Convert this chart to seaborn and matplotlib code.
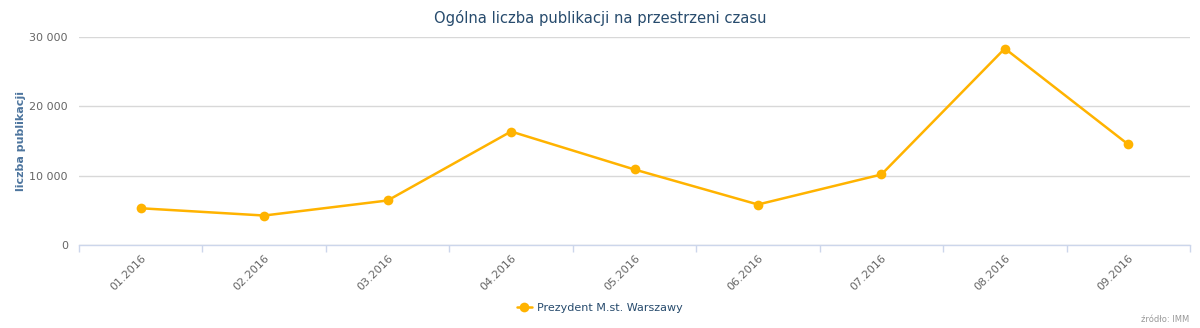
import matplotlib
matplotlib.use("Agg")
import matplotlib.pyplot as plt
import seaborn as sns
import pandas as pd
from matplotlib.ticker import FuncFormatter, FixedLocator
from matplotlib.lines import Line2D

months = ["01.2016", "02.2016", "03.2016", "04.2016", "05.2016",
          "06.2016", "07.2016", "08.2016", "09.2016"]
publications = [5300, 4250, 6420, 16370, 10890, 5840, 10170, 28340, 14500]
series_name = "Prezydent M.st. Warszawy"
y_ticks = [0, 10000, 20000, 30000]

df = pd.DataFrame({"month": months, "count": publications})

sns.set_theme(style="white")
plt.rcParams['font.family'] = ['DejaVu Sans']

color = "#ffb300"
fig = plt.figure(figsize=(12, 3.28), dpi=100)
ax = fig.add_axes([79/1200, 1 - 245/328, (1190 - 79)/1200, (245 - 37)/328])

sns.lineplot(data=df, x="month", y="count", ax=ax, color=color, lw=1.8,
             marker="o", markersize=7, markeredgewidth=0, sort=False)

ax.set_xlim(-0.5, len(months) - 0.5)
ax.set_ylim(0, 30000)
ax.set_yticks(y_ticks)
ax.yaxis.set_major_formatter(FuncFormatter(lambda v, p: f"{int(v):,}".replace(",", " ")))
ax.grid(axis="y", color="#d8d8d8", lw=1)
ax.set_axisbelow(True)

for s in ["top", "right", "left"]:
    ax.spines[s].set_visible(False)
ax.spines["bottom"].set_color("#ccd6eb")
ax.spines["bottom"].set_linewidth(1)

ax.set_xticks(range(len(months)))
ax.set_xticklabels(months, rotation=45, ha="right", rotation_mode="anchor",
                   fontsize=8, color="#666666")
ax.tick_params(axis="x", which="major", length=0, pad=6)
ax.xaxis.set_minor_locator(FixedLocator([i - 0.5 for i in range(len(months) + 1)]))
ax.tick_params(axis="x", which="minor", length=5, color="#ccd6eb", width=1, bottom=True)
ax.tick_params(axis="y", length=0, labelsize=8, labelcolor="#666666", pad=8)

ax.set_xlabel("")
ax.set_ylabel("liczba publikacji", fontsize=8, fontweight="bold", color="#4d759e")
ax.yaxis.set_label_coords(-0.048, 0.5)

fig.text(0.5, 1 - 18/328, "Ogólna liczba publikacji na przestrzeni czasu",
         ha="center", va="center", fontsize=10.6, color="#274b6d")

handle = Line2D([], [], color=color, lw=1.8, marker="o", markersize=7, markeredgewidth=0)
fig.legend([handle], [series_name], loc="center", bbox_to_anchor=(0.5, 1 - 308/328),
           frameon=False, fontsize=8, labelcolor="#274b6d", handlelength=1.3,
           handletextpad=0.5)

fig.text(1189/1200, 1 - 320/328, "źródło: IMM", ha="right", va="center",
         fontsize=6, color="#999999")

fig.savefig("out.png", dpi=100, facecolor="white")
